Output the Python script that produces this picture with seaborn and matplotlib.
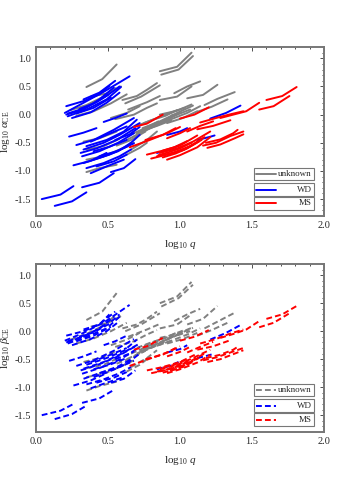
import numpy as np
import pandas as pd
import matplotlib
matplotlib.use("Agg")
import matplotlib.pyplot as plt
from matplotlib.patches import Rectangle
from matplotlib.lines import Line2D
from matplotlib.ticker import MultipleLocator
import seaborn as sns

# ---------------- data: each segment = x (log10 q), alpha (log10 alpha_CE), beta (log10 beta_CE)
GRAY_X = [
    [0.35, 0.46, 0.56], [0.86, 0.98, 1.08], [0.87, 0.99, 1.09], [0.60, 0.70, 0.77, 0.84],
    [0.62, 0.73, 0.86], [0.64, 0.77, 0.86], [0.86, 0.98, 1.08], [1.05, 1.16, 1.26],
    [0.96, 1.05, 1.14], [1.17, 1.26, 1.38], [1.12, 1.22, 1.33], [0.24, 0.35, 0.47, 0.55],
    [0.28, 0.40, 0.52, 0.63], [0.52, 0.63, 0.72], [0.55, 0.68, 0.77, 0.84], [0.63, 0.77, 0.90, 0.95],
    [0.68, 0.79, 0.91, 1.00], [0.70, 0.82, 0.95, 1.07], [0.74, 0.86, 0.98, 1.09], [0.79, 0.93, 1.05, 1.14],
    [0.35, 0.47, 0.58, 0.68], [0.35, 0.44, 0.56], [0.63, 0.72, 0.77], [0.66, 0.77, 0.84],
    [0.33, 0.44, 0.56], [0.91, 1.02, 1.12], [0.86, 0.98, 1.08], [0.35, 0.47, 0.58],
    [0.38, 0.50, 0.59], [0.72, 0.84, 0.94], [0.70, 0.80, 0.90, 0.98], [0.75, 0.85, 0.95, 1.03],
    [0.66, 0.75, 0.85], [0.56, 0.66, 0.76],
]
GRAY_ALPHA = [
    [0.49, 0.63, 0.89], [0.77, 0.85, 1.10], [0.71, 0.80, 1.04], [0.26, 0.33, 0.44, 0.56],
    [0.20, 0.32, 0.52], [0.09, 0.22, 0.33], [0.26, 0.32, 0.50], [0.29, 0.35, 0.53],
    [0.38, 0.50, 0.59], [0.17, 0.28, 0.40], [0.05, 0.14, 0.27], [0.08, 0.17, 0.32, 0.47],
    [-0.02, 0.06, 0.20, 0.36], [-0.06, 0.03, 0.15], [-0.08, 0.00, 0.12, 0.20], [-0.45, -0.27, -0.12, 0.00],
    [-0.39, -0.24, -0.09, 0.03], [-0.33, -0.18, -0.03, 0.09], [-0.24, -0.12, 0.03, 0.16], [-0.21, -0.09, 0.03, 0.15],
    [-0.80, -0.74, -0.62, -0.50], [-1.02, -0.95, -0.89], [-0.71, -0.59, -0.50], [-0.62, -0.45, -0.30],
    [-0.48, -0.42, -0.30], [-0.15, -0.06, 0.06], [0.00, 0.07, 0.18], [-0.62, -0.56, -0.43],
    [0.32, 0.38, 0.50], [-0.30, -0.20, -0.10], [-0.20, -0.10, -0.02, 0.08], [-0.15, -0.05, 0.05, 0.12],
    [-0.35, -0.25, -0.12], [-0.55, -0.45, -0.30],
]
GRAY_BETA = [
    [0.20, 0.35, 0.68], [0.50, 0.62, 0.88], [0.44, 0.59, 0.83], [0.05, 0.12, 0.22, 0.35],
    [0.00, 0.12, 0.32], [-0.10, 0.03, 0.13], [0.05, 0.12, 0.30], [0.12, 0.22, 0.45],
    [0.18, 0.30, 0.40], [0.05, 0.17, 0.33], [-0.08, 0.02, 0.15], [-0.15, -0.05, 0.10, 0.28],
    [-0.22, -0.13, 0.00, 0.15], [-0.25, -0.15, -0.03], [-0.28, -0.18, -0.06, 0.02], [-0.50, -0.33, -0.18, -0.07],
    [-0.45, -0.30, -0.15, -0.05], [-0.40, -0.25, -0.10, 0.00], [-0.32, -0.20, -0.06, 0.06], [-0.30, -0.18, -0.06, 0.05],
    [-0.82, -0.76, -0.64, -0.52], [-1.06, -0.98, -0.90], [-0.72, -0.60, -0.50], [-0.64, -0.48, -0.34],
    [-0.55, -0.48, -0.36], [-0.22, -0.14, -0.03], [-0.12, -0.05, 0.06], [-0.66, -0.60, -0.47],
    [0.08, 0.15, 0.27], [-0.36, -0.26, -0.17], [-0.30, -0.20, -0.12, -0.02], [-0.26, -0.16, -0.06, 0.02],
    [-0.40, -0.30, -0.18], [-0.58, -0.48, -0.35],
]

BLUE_X = [
    [0.04, 0.17, 0.26], [0.13, 0.25, 0.35], [0.32, 0.44, 0.54], [0.52, 0.61, 0.69],
    [0.26, 0.38, 0.49], [0.23, 0.33, 0.42], [0.21, 0.33, 0.44, 0.54], [0.20, 0.33, 0.48, 0.65],
    [0.33, 0.44, 0.55], [0.22, 0.35, 0.49, 0.59], [0.25, 0.38, 0.49, 0.58], [0.28, 0.40, 0.54, 0.68],
    [0.31, 0.42, 0.56, 0.69], [0.32, 0.44, 0.57, 0.68], [0.33, 0.44, 0.57, 0.66], [0.35, 0.47, 0.58, 0.66],
    [0.38, 0.49, 0.61], [0.40, 0.51, 0.63, 0.72], [0.33, 0.47, 0.58, 0.72], [0.35, 0.49, 0.61, 0.70],
    [0.40, 0.51, 0.63], [0.44, 0.56, 0.68], [0.38, 0.49, 0.63], [0.42, 0.54, 0.63],
    [1.21, 1.32, 1.42], [0.91, 1.00, 1.05], [0.84, 0.93, 0.99], [1.12, 1.20, 1.24],
    [0.47, 0.55, 0.63], [0.21, 0.33, 0.44, 0.51], [0.28, 0.40, 0.52], [0.55, 0.65, 0.72],
    [0.22, 0.32, 0.42, 0.50], [0.30, 0.40, 0.50, 0.58],
]
BLUE_ALPHA = [
    [-1.50, -1.42, -1.27], [-1.62, -1.54, -1.38], [-1.29, -1.21, -1.04], [-1.02, -0.95, -0.79],
    [-0.90, -0.82, -0.68], [-0.39, -0.32, -0.24], [0.00, 0.09, 0.27, 0.48], [0.03, 0.21, 0.42, 0.68],
    [0.27, 0.39, 0.60], [-0.03, 0.09, 0.27, 0.49], [-0.06, 0.04, 0.21, 0.39], [-0.54, -0.45, -0.27, -0.06],
    [-0.68, -0.60, -0.45, -0.24], [-0.74, -0.65, -0.50, -0.33], [-0.86, -0.77, -0.65, -0.50], [-0.95, -0.86, -0.74, -0.62],
    [-1.04, -0.92, -0.80], [-0.80, -0.71, -0.57, -0.36], [-0.62, -0.50, -0.36, -0.15], [-0.56, -0.45, -0.30, -0.09],
    [-0.65, -0.57, -0.45], [-0.74, -0.65, -0.51], [-0.48, -0.36, -0.21], [-0.92, -0.83, -0.71],
    [-0.07, 0.03, 0.16], [-0.36, -0.30, -0.24], [-0.68, -0.62, -0.55], [-0.45, -0.40, -0.37],
    [-0.13, -0.06, 0.02], [0.15, 0.24, 0.36, 0.51], [0.02, 0.12, 0.30], [-0.45, -0.35, -0.22],
    [0.02, 0.10, 0.22, 0.35], [0.10, 0.20, 0.35, 0.50],
]
BLUE_BETA = [
    [-1.50, -1.42, -1.30], [-1.57, -1.48, -1.33], [-1.28, -1.20, -1.05], [-0.92, -0.85, -0.70],
    [-0.97, -0.88, -0.75], [-0.53, -0.45, -0.36], [-0.20, -0.10, 0.05, 0.25], [-0.17, -0.03, 0.17, 0.47],
    [0.03, 0.12, 0.35], [-0.22, -0.10, 0.05, 0.28], [-0.25, -0.14, 0.00, 0.18], [-0.62, -0.52, -0.35, -0.14],
    [-0.70, -0.61, -0.46, -0.27], [-0.76, -0.66, -0.52, -0.36], [-0.85, -0.75, -0.63, -0.50], [-0.95, -0.86, -0.75, -0.64],
    [-1.02, -0.92, -0.82], [-0.82, -0.72, -0.58, -0.40], [-0.67, -0.55, -0.42, -0.22], [-0.60, -0.48, -0.35, -0.15],
    [-0.68, -0.60, -0.48], [-0.75, -0.66, -0.53], [-0.55, -0.45, -0.30], [-0.92, -0.83, -0.73],
    [-0.15, -0.03, 0.11], [-0.38, -0.32, -0.25], [-0.68, -0.62, -0.55], [-0.48, -0.43, -0.40],
    [-0.25, -0.18, -0.08], [-0.08, 0.00, 0.12, 0.30], [-0.18, -0.08, 0.08], [-0.50, -0.40, -0.28],
    [-0.18, -0.10, 0.02, 0.15], [-0.10, -0.02, 0.12, 0.30],
]

RED_X = [
    [1.60, 1.71, 1.81], [1.55, 1.65, 1.76], [1.28, 1.37, 1.46, 1.55], [1.14, 1.25, 1.34, 1.44],
    [1.00, 1.10, 1.20], [0.68, 0.77, 0.88], [0.65, 0.78, 0.92, 1.00], [0.77, 0.88, 1.00, 1.12],
    [0.80, 0.91, 1.03, 1.15], [0.84, 0.95, 1.07, 1.17], [0.86, 0.98, 1.09, 1.21], [0.91, 1.00, 1.12, 1.21],
    [1.16, 1.25, 1.35, 1.44], [1.18, 1.28, 1.37, 1.40], [1.19, 1.28, 1.38, 1.44], [1.12, 1.23, 1.35],
    [0.91, 1.00, 1.07], [1.05, 1.14, 1.23], [0.76, 0.88, 0.97], [0.88, 0.96, 1.05],
    [0.93, 1.02, 1.10], [0.85, 0.93, 1.00, 1.08], [0.88, 0.97, 1.05, 1.13],
]
RED_ALPHA = [
    [0.26, 0.33, 0.49], [0.09, 0.15, 0.33], [-0.06, 0.00, 0.06, 0.21], [-0.14, -0.06, 0.00, 0.06],
    [-0.07, 0.00, 0.13], [-0.22, -0.16, 0.00], [-0.58, -0.46, -0.32, -0.22], [-0.71, -0.64, -0.55, -0.37],
    [-0.78, -0.71, -0.62, -0.45], [-0.74, -0.68, -0.56, -0.40], [-0.68, -0.60, -0.48, -0.30], [-0.80, -0.72, -0.58, -0.40],
    [-0.55, -0.50, -0.38, -0.30], [-0.50, -0.44, -0.33, -0.27], [-0.59, -0.53, -0.42, -0.35], [-0.26, -0.20, -0.10],
    [-0.42, -0.33, -0.24], [-0.30, -0.20, -0.12], [-0.45, -0.36, -0.24], [-0.64, -0.58, -0.47],
    [-0.70, -0.63, -0.52], [-0.72, -0.66, -0.60, -0.50], [-0.76, -0.69, -0.60, -0.48],
]
RED_BETA = [
    [0.22, 0.30, 0.45], [0.07, 0.15, 0.32], [-0.12, -0.05, 0.03, 0.18], [-0.22, -0.14, -0.05, 0.03],
    [-0.17, -0.10, 0.02], [-0.33, -0.27, -0.12], [-0.62, -0.50, -0.37, -0.27], [-0.70, -0.64, -0.55, -0.40],
    [-0.75, -0.69, -0.60, -0.45], [-0.72, -0.66, -0.54, -0.40], [-0.68, -0.60, -0.48, -0.33], [-0.75, -0.68, -0.56, -0.42],
    [-0.52, -0.47, -0.38, -0.30], [-0.48, -0.42, -0.33, -0.28], [-0.55, -0.50, -0.40, -0.34], [-0.33, -0.27, -0.16],
    [-0.45, -0.37, -0.28], [-0.38, -0.28, -0.19], [-0.50, -0.42, -0.30], [-0.65, -0.60, -0.50],
    [-0.70, -0.64, -0.53], [-0.72, -0.67, -0.60, -0.50], [-0.74, -0.68, -0.59, -0.48],
]

KINDS = ["unknown", "WD", "MS"]
COLORS = {"unknown": "#808080", "WD": "#0000ff", "MS": "#ff0000"}

# ---------------- build long table
rows = []
seg_id = 0
for kind, xs, als, bes in [("unknown", GRAY_X, GRAY_ALPHA, GRAY_BETA),
                           ("WD", BLUE_X, BLUE_ALPHA, BLUE_BETA),
                           ("MS", RED_X, RED_ALPHA, RED_BETA)]:
    for xx, aa, bb in zip(xs, als, bes):
        for order, (xv, av, bv) in enumerate(zip(xx, aa, bb)):
            rows.append(dict(seg=seg_id, order=order, kind=kind, logq=xv, alpha=av, beta=bv))
        seg_id += 1
df = pd.DataFrame(rows)

# ---------------- style
sns.set_style("white")
plt.rcParams["font.family"] = ["Liberation Serif", "DejaVu Serif"]
plt.rcParams["mathtext.fontset"] = "custom"
plt.rcParams["mathtext.rm"] = "Liberation Serif"
plt.rcParams["mathtext.it"] = "Liberation Serif:italic"
plt.rcParams["mathtext.bf"] = "Liberation Serif:bold"

fig = plt.figure(figsize=(3.6, 4.8), dpi=100)
ax1 = fig.add_axes([0.10, 0.55, 0.80, 0.352])
ax2 = fig.add_axes([0.10, 0.10, 0.80, 0.350])

dash_pat = (0, (3.0, 1.6))

for ax, ycol, ls, ylab in [(ax1, "alpha", "-", r"$\mathrm{log}_{10}\ \alpha_{\mathrm{CE}}$"),
                           (ax2, "beta", dash_pat, r"$\mathrm{log}_{10}\ \beta_{\mathrm{CE}}$")]:
    sns.lineplot(data=df, x="logq", y=ycol, hue="kind", hue_order=KINDS, palette=COLORS,
                 units="seg", estimator=None, sort=False, legend=False, ax=ax,
                 linewidth=1.4, linestyle=ls)
    ax.set_xlim(0.0, 2.0)
    ax.set_ylim(-1.8, 1.2)
    ax.xaxis.set_major_locator(MultipleLocator(0.5))
    ax.xaxis.set_minor_locator(MultipleLocator(0.1))
    ax.yaxis.set_major_locator(MultipleLocator(0.5))
    ax.yaxis.set_minor_locator(MultipleLocator(0.1))
    ax.tick_params(which="both", direction="in", top=True, right=True, labelsize=7.5,
                   color="#333333", width=0.6)
    ax.tick_params(which="major", length=3)
    ax.tick_params(which="minor", length=1.5)
    ax.set_xticks([0.0, 0.5, 1.0, 1.5, 2.0])
    ax.set_xticklabels(["0.0", "0.5", "1.0", "1.5", "2.0"])
    ax.set_yticks([1.0, 0.5, 0.0, -0.5, -1.0, -1.5])
    ax.set_yticklabels(["1.0", "0.5", "0.0", "-0.5", "-1.0", "-1.5"])
    for sp in ax.spines.values():
        sp.set_color("#777777")
        sp.set_linewidth(1.4)
    ax.set_xlabel(r"$\mathrm{log}_{10}\ q$", fontsize=8, labelpad=6)
    ax.set_ylabel(ylab, fontsize=8, labelpad=2)

    # legend: three separate framed entries
    boxes = [(0.213, 0.284), (0.118, 0.195), (0.036, 0.112)]
    for kind, (y0, y1) in zip(KINDS, boxes):
        ax.add_patch(Rectangle((0.757, y0), 0.208, y1 - y0, transform=ax.transAxes,
                               facecolor="white", edgecolor="#777777", linewidth=0.8, zorder=5))
        ym = (y0 + y1) / 2
        ax.add_line(Line2D([0.765, 0.835], [ym, ym], transform=ax.transAxes,
                           color=COLORS[kind], linewidth=1.4, linestyle=ls, zorder=6))
        ax.text(0.958, ym, kind, transform=ax.transAxes, ha="right", va="center",
                fontsize=6.5, zorder=7)

fig.savefig("out.png", dpi=100)
